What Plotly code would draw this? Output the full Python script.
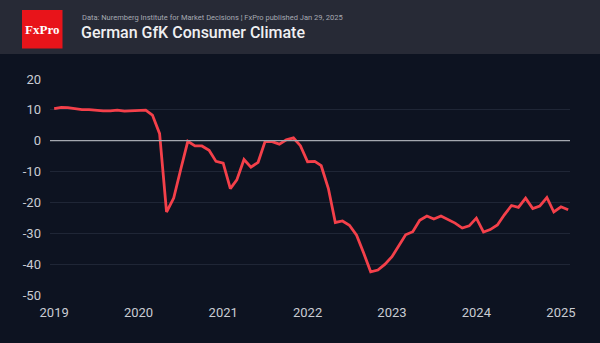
import plotly.graph_objects as go
import pandas as pd

dates = pd.date_range("2019-01-01", "2025-02-01", freq="MS")
values = [
    10.4, 10.8, 10.7, 10.4, 10.1, 10.1, 9.8, 9.7, 9.7, 9.9, 9.6, 9.7,
    9.6, 9.9, 8.3, 2.3, -23.1, -18.6, -9.4, -0.2, -1.7, -1.7, -3.1, -6.7,
    -7.3, -15.5, -12.7, -6.1, -8.6, -7.0, -0.3, -0.3, -1.1, 0.3, 0.9, -1.6,
    -6.8, -6.7, -8.1, -15.5, -26.5, -26.0, -27.4, -30.6, -36.5, -42.5, -41.9, -40.1,
    -37.6, -33.8, -30.5, -29.5, -25.8, -24.4, -25.4, -24.4, -25.6, -26.7, -28.3, -27.6,
    -25.1, -29.6, -28.8, -27.3, -24.0, -21.0, -21.6, -18.6, -22.0, -21.2, -18.4, -23.1,
    -21.4, -22.4,
]
y_ticks = [20, 10, 0, -10, -20, -30, -40, -50]
x_ticks = ["2019", "2020", "2021", "2022", "2023", "2024", "2025"]

W, H = 600, 343
ML, MR, MT, MB = 50, 30, 79, 48
PH = H - MT - MB
PW = W - ML - MR

def py(p):
    return 1 - (p - MT) / PH

def px(p):
    return (p - ML) / PW

fig = go.Figure()
fig.add_trace(go.Scatter(
    x=dates, y=values, mode="lines",
    line=dict(color="#f4404a", width=2.8),
    hoverinfo="skip", showlegend=False,
))

shapes = [
    dict(type="rect", xref="paper", yref="paper", x0=px(0), x1=px(W), y0=py(54), y1=py(0),
         fillcolor="#272a36", line=dict(width=0), layer="below"),
    dict(type="rect", xref="paper", yref="paper", x0=px(22), x1=px(62.5), y0=py(48.5), y1=py(10),
         fillcolor="#e8141a", line=dict(width=0)),
    dict(type="line", xref="paper", yref="y", x0=0, x1=1, y0=0, y1=0,
         line=dict(color="#a4a8b0", width=1.2)),
]

annotations = [
    dict(text="<b>FxPro</b>", xref="paper", yref="paper", x=px(42.3), y=py(29.5), showarrow=False,
         font=dict(family="Liberation Serif", size=13, color="white"), xanchor="center", yanchor="middle"),
    dict(text="Data: Nuremberg Institute for Market Decisions \u00a6 FxPro published Jan 29, 2025",
         xref="paper", yref="paper", x=px(79.5), y=py(18), showarrow=False, xanchor="left", yanchor="middle",
         font=dict(family="Roboto", size=7.5, color="#a6a9b2")),
    dict(text="German GfK Consumer Climate", xref="paper", yref="paper", x=px(79), y=py(32.5),
         showarrow=False, xanchor="left", yanchor="middle",
         font=dict(family="Roboto", size=16, color="#f0f0f2", weight=500)),
]

fig.update_layout(
    width=W, height=H,
    margin=dict(l=ML, r=MR, t=MT, b=MB),
    paper_bgcolor="#0d1321", plot_bgcolor="#0d1321",
    shapes=shapes, annotations=annotations,
    xaxis=dict(
        range=["2018-12-14", "2025-02-09"],
        tickvals=[f"{t}-01-01" for t in x_ticks], ticktext=x_ticks,
        showgrid=False, zeroline=False, showline=False, ticks="",
        ticklabelstandoff=8,
        tickfont=dict(family="Roboto", size=13, color="#c9ccd3"),
    ),
    yaxis=dict(
        range=[-50, 20], tickvals=y_ticks, ticktext=[str(v) for v in y_ticks],
        showgrid=True, gridcolor="#1f2636", gridwidth=1, zeroline=False, showline=False,
        ticks="", ticklabelstandoff=8,
        tickfont=dict(family="Roboto", size=13, color="#c9ccd3"),
    ),
)

fig.write_html("out.html")
